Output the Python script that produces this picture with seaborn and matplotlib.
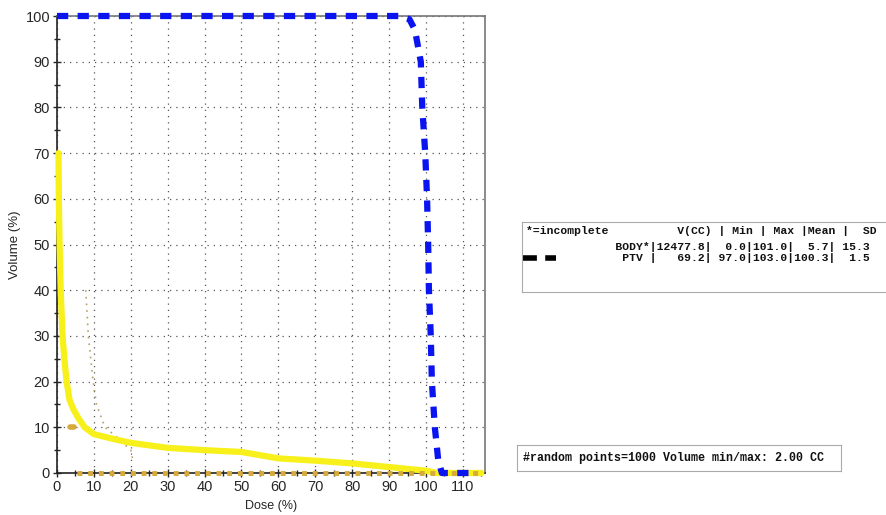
import pandas as pd
import matplotlib.pyplot as plt
import seaborn as sns

# DVH curves
body_dose = [0.4, 0.5, 0.7, 1.0, 1.5, 2.0, 2.6, 3.4, 4.4, 5.8, 7.5, 10, 15, 20, 30, 40, 50, 60, 70, 80, 90, 100, 103, 115]
body_vol = [70, 60, 50, 40, 30, 25, 20, 16, 14, 12, 10, 8.5, 7.5, 6.6, 5.5, 5.0, 4.6, 3.2, 2.7, 2.1, 1.3, 0.5, 0, 0]

ptv_dose = [0, 93, 95.5, 97, 98.6, 99.0, 99.8, 100.3, 100.6, 100.8, 101.3, 101.6, 102.4, 103.3, 104.3, 112]
ptv_vol = [100, 100, 99.3, 97, 90, 80, 70, 60, 50, 40, 30, 20, 10, 3, 0, 0]

# faint gold traces
gold_v_dose = [0.1, 0.1]
gold_v_vol = [20, 60]
gold_v2_dose = [0.1, 0.1]
gold_v2_vol = [60, 95]
gold_h_dose = [5.5, 115]
gold_h_vol = [0, 0]
gold_pt_dose = [3.6, 4.6]
gold_pt_vol = [10, 10]
tan_dose = [7.8, 8.5, 9.8, 10.7, 13, 16, 20, 20.5]
tan_vol = [40, 30, 20, 15, 10, 8, 5, 3]

table_lines = [
    "*=incomplete          V(CC) | Min | Max |Mean |  SD",
    "             BODY*|12477.8|  0.0|101.0|  5.7| 15.3",
    "              PTV |   69.2| 97.0|103.0|100.3|  1.5",
]
info_text = "#random points=1000 Volume min/max: 2.00 CC"

sns.set_style("white")
plt.rcParams["font.family"] = ["Liberation Sans", "DejaVu Sans"]

fig = plt.figure(figsize=(8.87, 5.15), dpi=100)
ax = fig.add_axes([57 / 887, 1 - 473 / 515, (485 - 57) / 887, (473 - 16) / 515])

gold = "#d6a93a"
sns.lineplot(x=gold_v_dose, y=gold_v_vol, ax=ax, color=gold, lw=3.5,
             linestyle=(0, (1, 1.2)), clip_on=False, zorder=2)
sns.lineplot(x=gold_v2_dose, y=gold_v2_vol, ax=ax, color="#e0c870", lw=1.5,
             linestyle=(0, (2, 3)), clip_on=False, zorder=2)
sns.lineplot(x=tan_dose, y=tan_vol, ax=ax, color="#b8a06a", lw=1.2,
             linestyle=(0, (1, 3)), zorder=2)
sns.lineplot(x=body_dose, y=body_vol, ax=ax, color="#f7f01a", lw=4.5,
             clip_on=False, zorder=3)
sns.lineplot(x=gold_h_dose, y=gold_h_vol, ax=ax, color=gold, lw=3.5,
             linestyle=(0, (1, 1.2)), clip_on=False, zorder=4)
sns.lineplot(x=gold_pt_dose, y=gold_pt_vol, ax=ax, color=gold, lw=4, zorder=4)
sns.lineplot(x=ptv_dose, y=ptv_vol, ax=ax, color="#0a14f0", lw=4.5,
             linestyle=(0, (1.8, 1.5)), clip_on=False, zorder=5)

ax.set_xlim(0, 116)
ax.set_ylim(0, 100)
ax.set_xticks(range(0, 111, 10))
ax.set_yticks(range(0, 101, 10))
ax.set_xticks(range(5, 116, 5), minor=True)
ax.set_yticks(range(5, 100, 5), minor=True)
ax.grid(True, which="major", color="#555555", linestyle=(0, (1, 4)), lw=0.9)
ax.tick_params(which="major", direction="inout", length=6, width=1, labelsize=10.5, pad=2,
               bottom=True, left=True)
ax.tick_params(which="minor", direction="inout", length=5, width=1, bottom=True, left=True)
for s in ["left", "bottom"]:
    ax.spines[s].set_color("#222222")
    ax.spines[s].set_linewidth(1.2)
for s in ["top", "right"]:
    ax.spines[s].set_color("#777777")
    ax.spines[s].set_linewidth(1.2)
ax.set_xlabel("Dose (%)", fontsize=9, labelpad=4)
ax.set_ylabel("Volume (%)", fontsize=9.5, labelpad=3)

# table box on the right
tab = fig.add_axes([522 / 887, 1 - 292 / 515, 420 / 887, 70 / 515])
tab.set_xlim(0, 420)
tab.set_ylim(70, 0)
tab.set_xticks([])
tab.set_yticks([])
for s in ["left", "top", "bottom"]:
    tab.spines[s].set_color("#aaaaaa")
tab.spines["right"].set_visible(False)
for txt, y in zip(table_lines, [9, 25, 36]):
    tab.text(4, y, txt, fontsize=8.2, family="Liberation Mono", weight="bold",
             va="center", ha="left", color="#111111")
tab.plot([1, 34], [36, 36], color="black", lw=4, linestyle=(0, (2.5, 1.5)))

info = fig.add_axes([517 / 887, 1 - 471 / 515, 324 / 887, 26 / 515])
info.set_xticks([])
info.set_yticks([])
for s in info.spines.values():
    s.set_color("#aaaaaa")
info.text(0.02, 0.5, info_text, fontsize=8.4, family="Liberation Mono", weight="bold",
          va="center", ha="left", color="#111111", transform=info.transAxes)

fig.savefig("out.png", dpi=100)
